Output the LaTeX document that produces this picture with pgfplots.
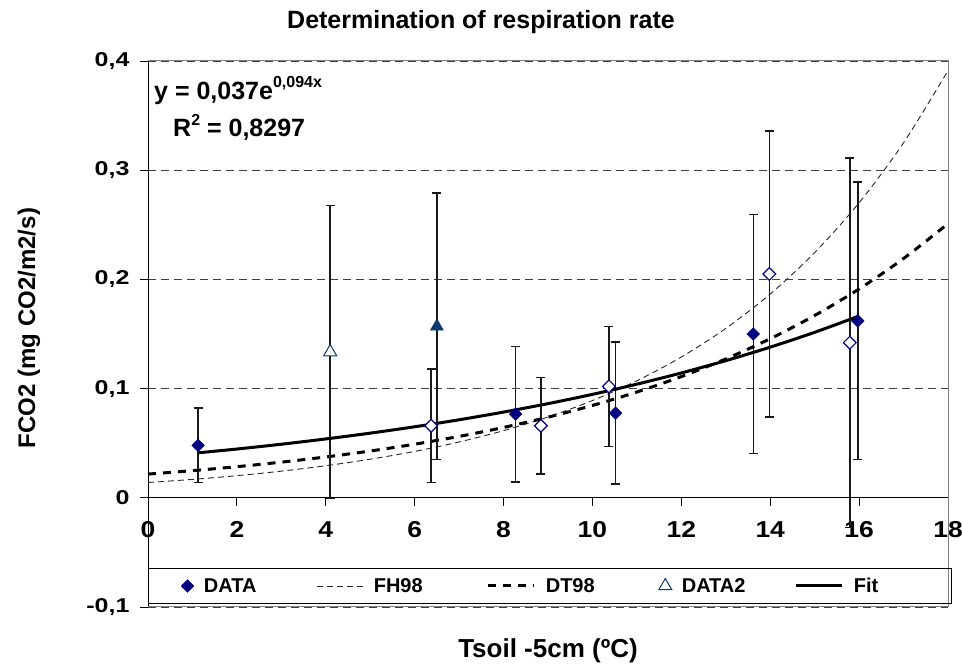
\documentclass[border=0pt]{standalone}
\usepackage{graphicx}
\usepackage{pgfplots}
\pgfplotsset{compat=1.18}
\usepackage{fontspec}
\setmainfont{Liberation Sans}
\definecolor{navy}{HTML}{000080}
\definecolor{dblue}{HTML}{0B3A6E}
\newcommand{\ylab}[1]{\scalebox{1.25}[1]{#1}}
\newcommand{\xlab}[1]{\scalebox{1.15}[1]{#1}}
\pgfplotsset{
  lineleg/.style={legend image code/.code={\draw[##1] (0pt,0pt) -- (46pt,0pt);}},
  markleg/.style={legend image code/.code={\draw[##1, mark repeat=2, mark phase=2] plot coordinates {(0pt,0pt) (23pt,0pt) (46pt,0pt)};}},
}
\begin{document}
\begin{tikzpicture}[x=1pt,y=1pt]
\useasboundingbox (0,0) rectangle (962,671);
\begin{axis}[
  at={(148pt,64pt)}, anchor=south west,
  scale only axis, width=800pt, height=546pt,
  xmin=0, xmax=18, ymin=-0.1, ymax=0.4,
  axis x line*=middle, axis y line*=left,
  hide obscured x ticks=false,
  axis line style={black, line width=1pt, -},
  xtick={0,2,4,6,8,10,12,14,16,18},
  xticklabels={\xlab{0},\xlab{2},\xlab{4},\xlab{6},\xlab{8},\xlab{10},\xlab{12},\xlab{14},\xlab{16},\xlab{18}},
  ytick={-0.1,0,0.1,0.2,0.3,0.4},
  yticklabels={\ylab{-0,1},\ylab{0},\ylab{0,1},\ylab{0,2},\ylab{0,3},\ylab{0,4}},
  xtick align=outside, ytick align=outside,
  major tick length=8pt,
  tick style={black, line width=0.8pt},
  xticklabel style={font=\fontsize{23}{23}\selectfont\bfseries, yshift=-12pt},
  yticklabel style={font=\fontsize{20}{20}\selectfont\bfseries, xshift=-7pt},
  ymajorgrids,
  grid style={dash pattern=on 8pt off 5pt, black!75, line width=0.8pt},
  clip=false,
  legend columns=5,
  legend style={at={(0.04125,0.0385)}, anchor=west, draw=none, fill=none,
    inner sep=0pt, font=\fontsize{20}{20}\selectfont\bfseries,
    /tikz/every odd column/.append style={column sep=8pt},
    /tikz/every even column/.append style={column sep=41pt}},
  error bars/error bar style={line width=1.6pt, black!90},
  error bars/error mark options={line width=1.5pt, black!90, mark size=4.6pt, rotate=90},
]
% frame and legend box
\draw[black!50, line width=1pt] (rel axis cs:0,1) -- (rel axis cs:1,1) -- (rel axis cs:1,0) -- (rel axis cs:0,0);
\draw[black, line width=1pt] (rel axis cs:0,0.0055) rectangle (rel axis cs:1.004,0.0696);

% DATA
\addplot[only marks, mark=square*, mark size=4.5pt, navy, mark options={fill=navy, rotate=45}, markleg,
  error bars/.cd, y dir=both, y explicit]
  coordinates {
  (1.13,0.048) +- (0,0.034)
  (8.27,0.0766) +- (0,0.062)
  (10.52,0.0775) +- (0,0.065)
  (13.62,0.150) +- (0,0.1095)
  (15.97,0.162) +- (0,0.127)
  };
\addlegendentry{\makebox[70pt][l]{DATA}}

% FH98
\addplot[black!85, line width=0.9pt, dash pattern=on 6pt off 4pt, smooth, lineleg]
  coordinates {
  (0,0.0140) (1,0.01684) (2,0.02027) (3,0.02439) (4,0.02934) (5,0.03531)
  (6,0.04248) (7,0.05111) (8,0.06150) (9,0.07400) (10,0.08904) (11,0.10713)
  (12,0.12890) (13,0.15510) (14,0.18662) (15,0.22454) (16,0.27017)
  (17,0.32508) (18,0.39114)
  };
\addlegendentry{\makebox[70pt][l]{FH98}}

% DT98
\addplot[black, line width=3pt, dash pattern=on 8pt off 7pt, smooth, lineleg]
  coordinates {
  (0,0.0217) (1,0.02486) (2,0.02849) (3,0.03264) (4,0.03739) (5,0.04283)
  (6,0.04907) (7,0.05622) (8,0.06441) (9,0.07380) (10,0.08455) (11,0.09687)
  (12,0.11100) (13,0.12717) (14,0.14570) (15,0.16694) (16,0.19124)
  (17,0.21912) (18,0.25105)
  };
\addlegendentry{\makebox[70pt][l]{DT98}}

% DATA2 (open triangle)
\addplot[only marks, mark=triangle*, mark size=7.5pt, dblue, mark options={fill=white, line width=1pt}, markleg,
  error bars/.cd, y dir=both, y explicit]
  coordinates {
  (4.1,0.1335) +- (0,0.134)
  };
\addlegendentry{\makebox[70pt][l]{DATA2}}

% Fit
\addplot[black, line width=3pt, smooth, lineleg]
  coordinates {
  (1.13,0.0412) (2,0.04465) (3,0.04905) (4,0.05389) (5,0.05920) (6,0.06503)
  (7,0.07145) (8,0.07849) (9,0.08622) (10,0.09472) (11,0.10406) (12,0.11431)
  (13,0.12558) (14,0.13795) (15,0.15155) (16,0.16648)
  };
\addlegendentry{Fit}

% open diamonds (not in legend)
\addplot[only marks, mark=square*, mark size=4.5pt, navy, mark options={fill=white, line width=1.2pt, rotate=45},
  forget plot, error bars/.cd, y dir=both, y explicit]
  coordinates {
  (6.37,0.066) +- (0,0.052)
  (8.84,0.066) +- (0,0.044)
  (10.37,0.102) +- (0,0.055)
  (13.98,0.205) +- (0,0.131)
  (15.79,0.142) +- (0,0.169)
  };

% filled triangle (not in legend)
\addplot[only marks, mark=triangle*, mark size=7.5pt, dblue, mark options={fill=dblue},
  forget plot, error bars/.cd, y dir=both, y explicit]
  coordinates {
  (6.5,0.157) +- (0,0.122)
  };
\end{axis}

\node[font=\fontsize{25}{25}\selectfont\bfseries] at (481,649) {Determination of respiration rate};
\node[font=\fontsize{24}{24}\selectfont\bfseries, rotate=90] at (29,343) {FCO2 (mg CO2/m2/s)};
\node[font=\fontsize{26}{26}\selectfont\bfseries] at (548,20) {Tsoil -5cm (ºC)};
\node[anchor=base west, inner sep=0pt, font=\fontsize{25}{25}\selectfont\bfseries] at (154,571)
  {y = 0,037e\raisebox{12pt}{\fontsize{16}{16}\selectfont 0,094x}};
\node[anchor=base west, inner sep=0pt, font=\fontsize{25}{25}\selectfont\bfseries] at (173,534)
  {R\raisebox{11pt}{\fontsize{16}{16}\selectfont 2} = 0,8297};
\end{tikzpicture}
\end{document}
